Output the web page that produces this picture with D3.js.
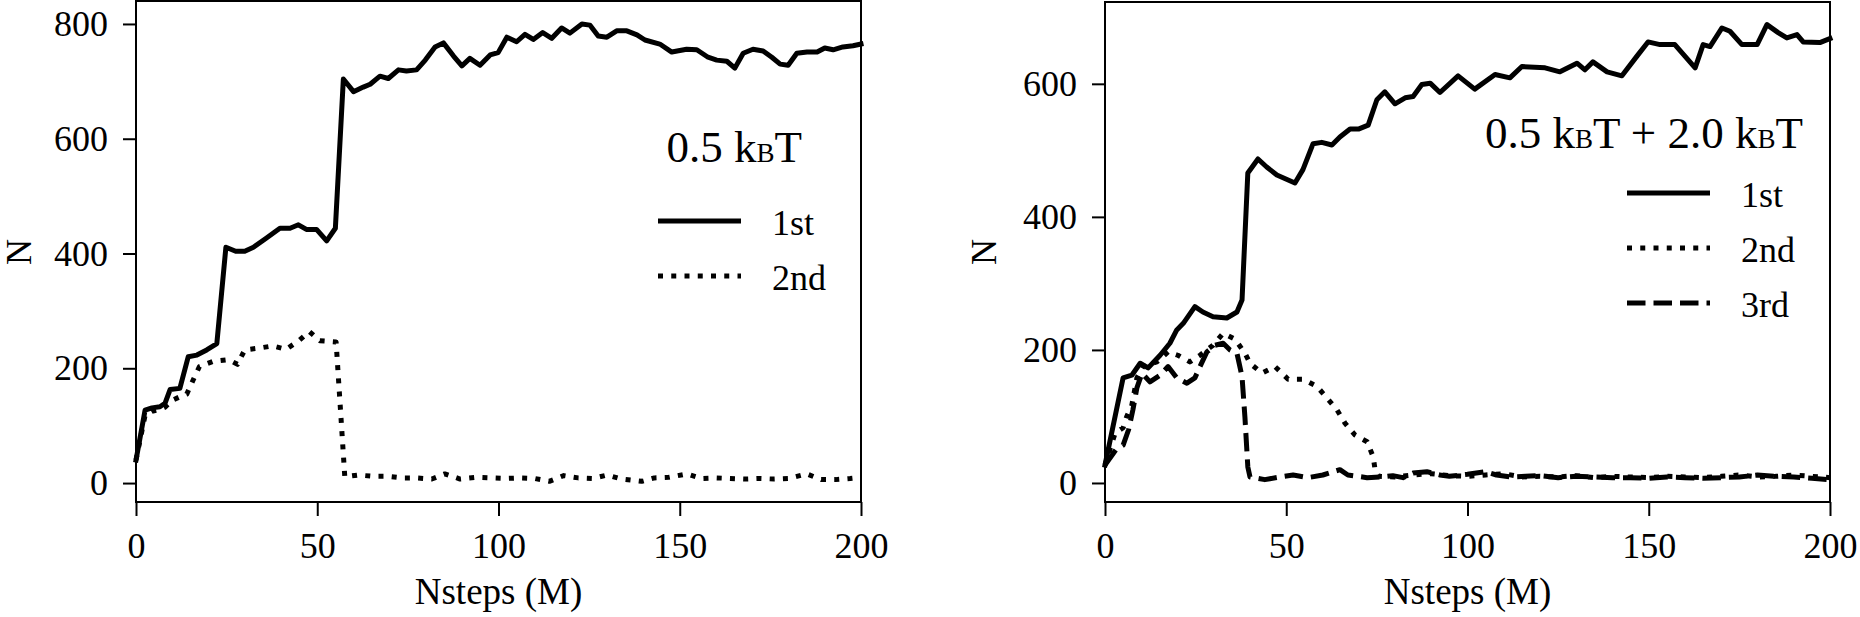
<!DOCTYPE html>
<html>
<head>
<meta charset="utf-8">
<script src="https://cdn.jsdelivr.net/npm/d3@7"></script>
<style>
    body { margin: 0; background: white; }
    svg { display: block; }
    text { font-family: "Liberation Serif", "Times New Roman", serif; fill: black; }
</style>
</head>
<body>
<div id="chart"></div>
<script>
// values: [Nsteps (M), N]
const left1st = [[0,40],[2.5,127],[4.4,131],[6.6,133],[8,139],[9.4,163],[12.1,165],[14.4,220],[16.8,223],[19.5,232],[22.3,243],[24.8,411],[27.5,404],[30,404],[32.4,411],[36,427],[39.7,444],[42.5,444],[44.8,450],[47,442],[49.8,442],[52.6,422],[55,444],[57.2,704],[60,682],[62.7,690],[64.6,695],[67.3,709],[69.6,705],[72.4,720],[74.6,718],[77.4,720],[79.8,737],[82.5,760],[84.8,767],[87.6,744],[89.9,727],[92.1,740],[94.9,728],[97.7,746],[99.9,750],[102.3,777],[105,769],[107.3,782],[109.6,773],[112.2,785],[114.7,775],[117.4,793],[119.7,784],[123,800],[125.2,798],[127.5,779],[129.9,777],[132.6,788],[135.4,788],[138.2,781],[140.4,772],[144.5,765],[147.8,751],[151.9,756],[154.7,755],[157.8,742],[160.2,737],[163,735],[165.2,723],[167.5,749],[170.2,756],[173,753],[175.4,742],[177.7,730],[179.9,728],[182.3,749],[185.1,751],[187.9,751],[190,758],[192.3,755],[195,760],[197.8,762],[200,765]];

const left2nd = [[0,40],[2.5,118],[4.4,125],[6.6,128],[8,132],[9.9,144],[12,150],[14,155],[15.8,180],[17.5,203],[21.3,212],[25.5,215],[28,207],[30,232],[33.8,235],[37.7,239],[41.4,233],[45.1,249],[47.8,264],[50.7,248],[55.2,246],[57.6,11],[61.3,14],[65,12],[68.9,12],[73.3,9],[77.4,9],[81.6,7],[85.2,16],[89.4,7],[94,10],[98,9],[102,8],[106,9],[110,8],[114,3],[118,13],[122,9],[126,8],[130,14],[134,7],[139.5,3],[143,9],[147,10],[152,16],[156,8],[160,9],[164,8],[168,7],[172,8],[176,7],[180,8],[185,16],[189,6],[193,6],[197,8],[200,10]];

const right1st = [[0,27],[5,158],[7.4,162],[9.7,180],[11.9,173],[15.2,192],[17.9,210],[19.8,230],[21.6,240],[24.8,265],[27,257],[29.8,250],[33.6,248],[36.4,257],[37.8,275],[39.4,466],[42.2,487],[44.6,475],[47.4,463],[52.4,451],[54.6,471],[57.4,510],[59.8,512],[62.6,508],[64.8,520],[67.6,532],[69.9,532],[72.6,538],[75,576],[77.2,588],[80,570],[82.8,579],[85,581],[87.4,599],[89.7,601],[92.4,587],[97.4,612],[102,592],[107.6,614],[111.7,609],[115,626],[121.4,624],[125.5,618],[130.2,631],[132.4,621],[134.6,633],[138.5,618],[142.6,612],[146.8,642],[149.8,663],[153.1,659],[157.2,659],[162.8,624],[165,659],[166.9,656],[170.2,684],[172.4,679],[175.7,659],[179.9,659],[182.6,689],[185.7,677],[188.1,669],[190.9,674],[192.6,663],[197.2,662],[200,668]];

const right2nd = [[0,27],[2.8,75],[5,83],[6,100],[7.4,117],[8.8,158],[10.5,175],[14.3,182],[17.4,197],[20.1,192],[23.4,182],[26.2,192],[29.8,207],[32.6,225],[35.9,216],[38.6,195],[40,180],[43.3,165],[46.9,175],[50.5,156],[54.6,156],[58.5,145],[61.2,128],[64,110],[66.2,90],[69,72],[72.3,62],[74,39],[74.5,20],[75.5,10],[80,9],[85,12],[90,14],[95,11],[100,10],[105,12],[110,14],[115,9],[120,10],[125,9],[130,11],[135,8],[140,10],[145,9],[150,8],[155,10],[160,9],[165,8],[170,10],[175,12],[180,9],[185,10],[190,12],[195,10],[200,8]];

const right3rd = [[0,27],[3,50],[5,57],[6.5,80],[7.7,110],[8.8,143],[10.2,165],[12.4,152],[15.2,162],[17.4,175],[19.8,158],[22.6,150],[24.8,158],[26.2,175],[28.1,197],[30.3,207],[32.6,210],[34.5,200],[36.4,195],[37.8,160],[38.6,99],[39.4,24],[40,9],[44.1,5],[48.3,9],[51.9,12],[56,8],[60.1,12],[64.8,20],[67,12],[72.3,8],[75.9,9],[79.4,11],[82.2,8],[85,15],[88.8,17],[92.4,12],[95,10],[100,13],[105,17],[108,12],[112,9],[116,10],[120,11],[125,8],[130,10],[135,9],[140,8],[145,8],[150,7],[155,9],[160,8],[165,7],[170,8],[175,9],[180,12],[185,10],[190,9],[195,7],[200,5]];

const xTicks = [0, 50, 100, 150, 200];
const leftYTicks = [0, 200, 400, 600, 800];
const rightYTicks = [0, 200, 400, 600];
const seriesLabels = ["1st", "2nd", "3rd"];

const width = 1860;
const height = 617;

const dashes = {
    "1st": null,
    "2nd": "5,8.25",
    "3rd": "18.5,8"
};

const svg = d3.select("#chart").append("svg")
    .attr("width", width)
    .attr("height", height);

function drawPanel(opts) {
    const x = d3.scaleLinear().domain([0, 200]).range(opts.xRange);
    const y = d3.scaleLinear().domain(opts.yDomain).range([502, opts.top]);

    const g = svg.append("g");

    // x axis
    const xAxis = g.append("g")
        .attr("transform", `translate(0,${y.range()[0]})`)
        .call(d3.axisBottom(x).tickValues(xTicks).tickSize(14).tickSizeOuter(0).tickPadding(16));
    // y axis
    const yAxis = g.append("g")
        .attr("transform", `translate(${x.range()[0]},0)`)
        .call(d3.axisLeft(y).tickValues(opts.yTicks).tickSize(13).tickSizeOuter(0).tickPadding(15));

    [xAxis, yAxis].forEach(a => {
        a.select(".domain").remove();
        a.selectAll(".tick line").attr("stroke", "black").attr("stroke-width", 2);
        a.selectAll(".tick text")
            .style("font-family", "'Liberation Serif', 'Times New Roman', serif")
            .style("font-size", "36px")
            .attr("fill", "black");
    });

    // box around the plot
    g.append("rect")
        .attr("x", x.range()[0])
        .attr("y", y.range()[1])
        .attr("width", x.range()[1] - x.range()[0])
        .attr("height", y.range()[0] - y.range()[1])
        .attr("fill", "none")
        .attr("stroke", "black")
        .attr("stroke-width", 2);

    const line = d3.line()
        .x(d => x(d[0]))
        .y(d => y(d[1]));

    opts.series.forEach((s, i) => {
        const label = seriesLabels[i];
        g.append("path")
            .datum(s)
            .attr("d", line)
            .attr("fill", "none")
            .attr("stroke", "black")
            .attr("stroke-width", 5)
            .attr("stroke-linejoin", "round")
            .attr("stroke-linecap", dashes[label] ? "butt" : "square")
            .attr("stroke-dasharray", dashes[label]);
    });

    // axis labels
    g.append("text")
        .attr("x", (x.range()[0] + x.range()[1]) / 2)
        .attr("y", 604)
        .attr("text-anchor", "middle")
        .style("font-size", "37px")
        .text("Nsteps (M)");

    g.append("text")
        .attr("transform", `translate(${opts.yLabelX},252) rotate(-90)`)
        .attr("text-anchor", "middle")
        .style("font-size", "36px")
        .text("N");

    // legend title, kBT with small B
    const title = g.append("text")
        .attr("x", opts.titleX)
        .attr("y", opts.titleY)
        .attr("text-anchor", "end")
        .style("font-size", "45px");
    opts.titleParts.forEach(p => {
        title.append("tspan").text(p[0] + "k");
        title.append("tspan").style("font-size", "27px").text("B");
        title.append("tspan").text("T" + p[1]);
    });

    // legend entries
    opts.series.forEach((s, i) => {
        const label = seriesLabels[i];
        const ly = opts.legendY + i * 55;
        g.append("line")
            .attr("x1", opts.legendX)
            .attr("x2", opts.legendX + 83)
            .attr("y1", ly)
            .attr("y2", ly)
            .attr("stroke", "black")
            .attr("stroke-width", 5)
            .attr("stroke-dasharray", dashes[label]);
        g.append("text")
            .attr("x", opts.legendX + 114)
            .attr("y", ly + 14)
            .style("font-size", "36px")
            .text(label);
    });
}

drawPanel({
    xRange: [136, 861],
    yDomain: [-33, 840],
    top: 1,
    yTicks: leftYTicks,
    series: [left1st, left2nd],
    yLabelX: 31,
    titleX: 802,
    titleY: 162,
    titleParts: [["0.5 ", ""]],
    legendX: 658,
    legendY: 221
});

drawPanel({
    xRange: [1105, 1830],
    yDomain: [-28.6, 723],
    top: 2,
    yTicks: rightYTicks,
    series: [right1st, right2nd, right3rd],
    yLabelX: 996,
    titleX: 1803,
    titleY: 148,
    titleParts: [["0.5 ", " + "], ["2.0 ", ""]],
    legendX: 1627,
    legendY: 193
});
</script>
</body>
</html>
